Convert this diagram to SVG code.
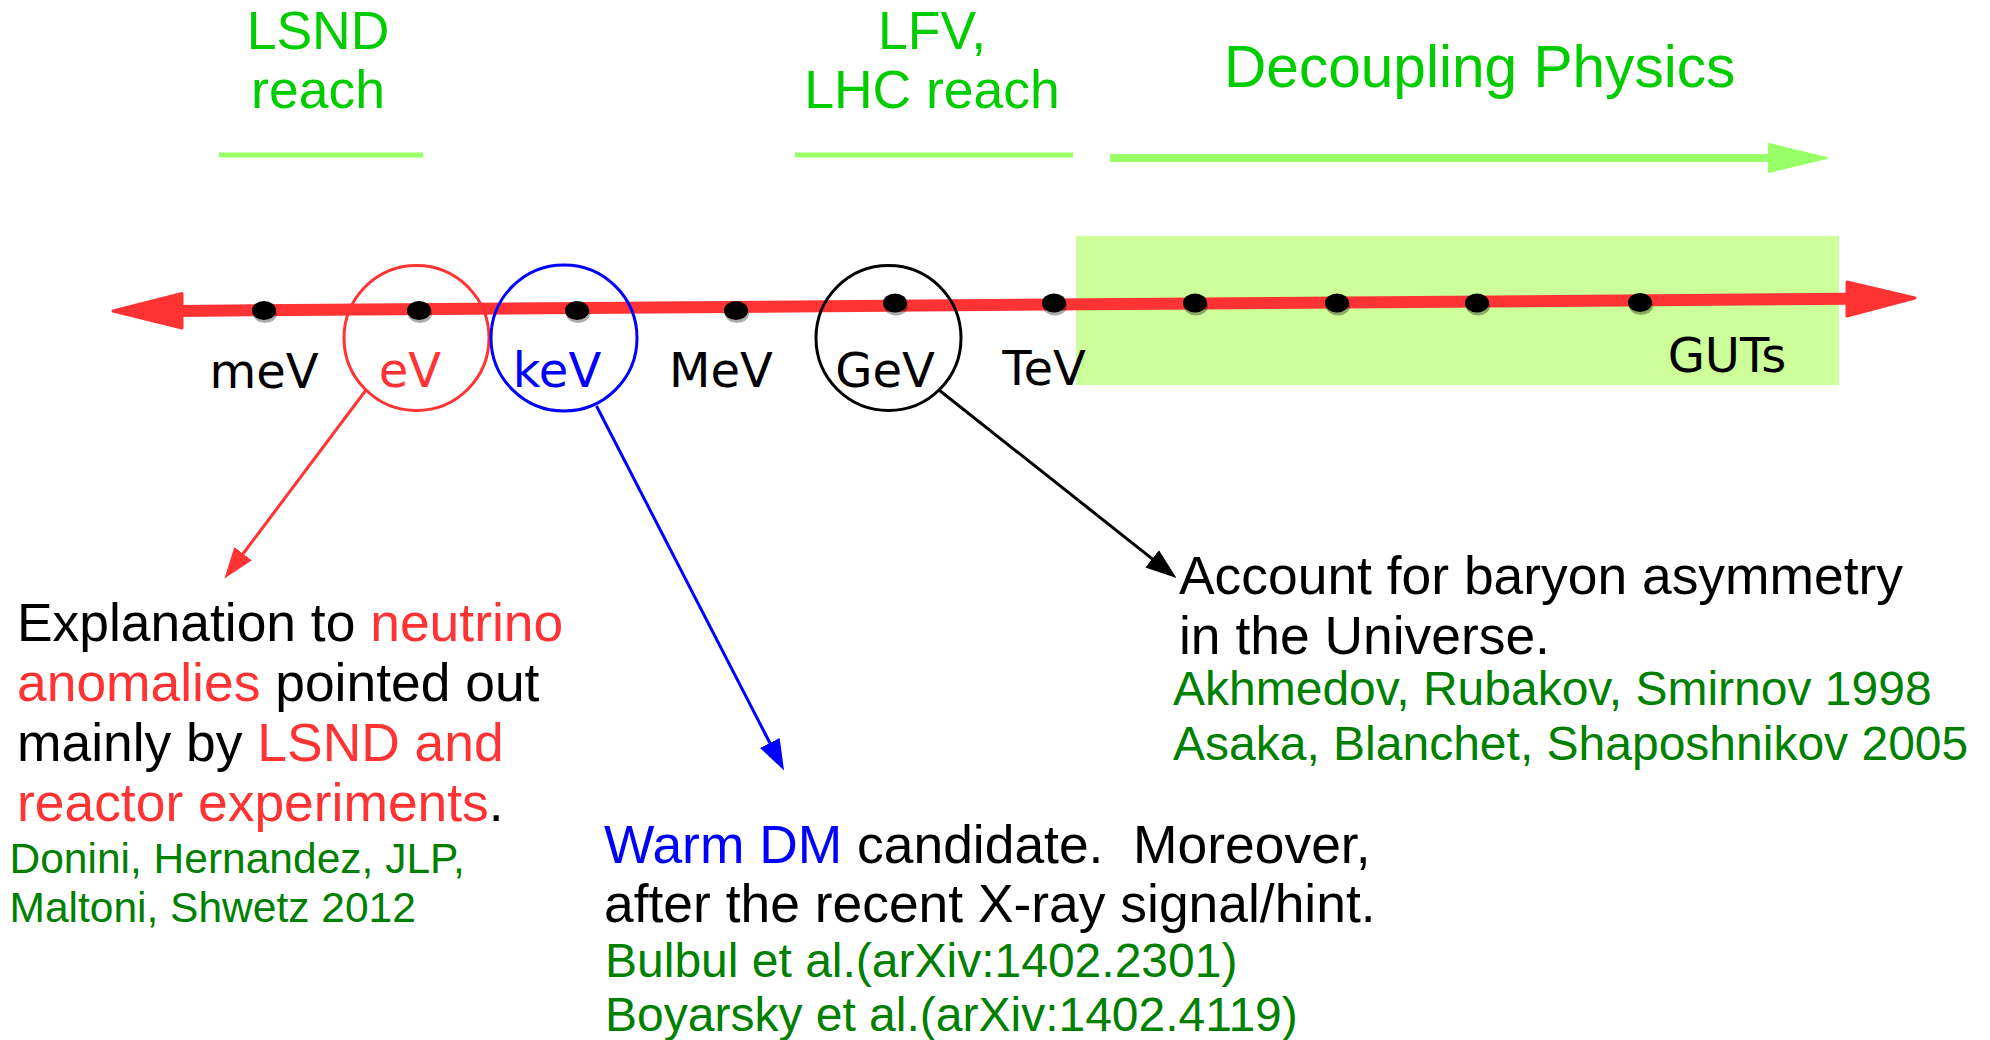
<svg xmlns="http://www.w3.org/2000/svg" width="1990" height="1040" viewBox="0 0 1990 1040">
<defs>
<style>
.t{font-family:"Liberation Sans",Arial,sans-serif}
.ax{font-family:"DejaVu Sans",sans-serif;font-size:48px;text-anchor:middle}
.top{font-family:"Liberation Sans",Arial,sans-serif;font-size:53.5px;fill:#00cc00;text-anchor:middle}
.main{font-size:53.4px;fill:#000}
.cite{font-size:48px;fill:#008000}
.r{fill:#ff3333}
.b{fill:#0000ff}
.dot{fill:#000}
.sh{fill:#000;opacity:0.33}
</style>
<marker id="mr" markerUnits="userSpaceOnUse" markerWidth="32" markerHeight="24" refX="11" refY="12" orient="auto"><path d="M0,1 L31,12 L0,23 z" fill="#ff3333"/></marker>
<marker id="mb" markerUnits="userSpaceOnUse" markerWidth="32" markerHeight="24" refX="11" refY="12" orient="auto"><path d="M0,1 L31,12 L0,23 z" fill="#0000ff"/></marker>
<marker id="mk" markerUnits="userSpaceOnUse" markerWidth="32" markerHeight="24" refX="11" refY="12" orient="auto"><path d="M0,1 L31,12 L0,23 z" fill="#000"/></marker>
</defs>
<rect width="1990" height="1040" fill="#fff"/>

<g id="decoupling-region">
<rect x="1076" y="236" width="763" height="149" fill="#ccff99"/>
</g>

<g id="top-labels">
<g id="lsnd">
<text class="top" x="318" y="49">LSND</text>
<text class="top" x="318" y="108">reach</text>
<line x1="219" y1="155" x2="423" y2="155" stroke="#99ff66" stroke-width="5"/>
</g>
<g id="lfv">
<text class="top" x="932" y="49">LFV,</text>
<text class="top" x="932" y="108">LHC reach</text>
<line x1="795" y1="155" x2="1073" y2="155" stroke="#99ff66" stroke-width="5"/>
</g>
<g id="decoupling">
<text class="t" x="1224" y="87" font-size="58.6" fill="#00cc00">Decoupling Physics</text>
<line x1="1110" y1="158" x2="1775" y2="158" stroke="#99ff66" stroke-width="8"/>
<path d="M1769,144 L1827,158 L1769,172 z" fill="#99ff66" stroke="#99ff66" stroke-width="2" stroke-linejoin="round"/>
</g>
</g>

<g id="axis">
<line x1="175" y1="310.9" x2="1850" y2="298.8" stroke="#ff3333" stroke-width="12"/>
<path d="M182,293.5 L113,311 L182,328 z" fill="#ff3333" stroke="#ff3333" stroke-width="3" stroke-linejoin="round"/>
<path d="M1847,282 L1915,298 L1847,316 z" fill="#ff3333" stroke="#ff3333" stroke-width="3" stroke-linejoin="round"/>
</g>

<g id="dots">
<ellipse class="sh" cx="265" cy="313.5" rx="12" ry="9.5"/><ellipse class="dot" cx="264" cy="310.5" rx="12" ry="9.5"/>
<ellipse class="sh" cx="420" cy="313.5" rx="12" ry="9.5"/><ellipse class="dot" cx="419" cy="310.5" rx="12" ry="9.5"/>
<ellipse class="sh" cx="578" cy="313.5" rx="12" ry="9.5"/><ellipse class="dot" cx="577" cy="310.5" rx="12" ry="9.5"/>
<ellipse class="sh" cx="737" cy="313.5" rx="12" ry="9.5"/><ellipse class="dot" cx="736" cy="310.5" rx="12" ry="9.5"/>
<ellipse class="sh" cx="896" cy="306" rx="12" ry="9.5"/><ellipse class="dot" cx="895" cy="303" rx="12" ry="9.5"/>
<ellipse class="sh" cx="1055" cy="306" rx="12" ry="9.5"/><ellipse class="dot" cx="1054" cy="303" rx="12" ry="9.5"/>
<ellipse class="sh" cx="1196" cy="306" rx="12" ry="9.5"/><ellipse class="dot" cx="1195" cy="303" rx="12" ry="9.5"/>
<ellipse class="sh" cx="1338" cy="306" rx="12" ry="9.5"/><ellipse class="dot" cx="1337" cy="303" rx="12" ry="9.5"/>
<ellipse class="sh" cx="1478" cy="306" rx="12" ry="9.5"/><ellipse class="dot" cx="1477" cy="303" rx="12" ry="9.5"/>
<ellipse class="sh" cx="1641" cy="305.5" rx="12" ry="9.5"/><ellipse class="dot" cx="1640" cy="302.5" rx="12" ry="9.5"/>
</g>

<g id="axis-labels">
<text class="ax" x="264" y="388" fill="#000">meV</text>
<g id="ev"><circle cx="416.5" cy="338" r="72.5" fill="none" stroke="#ff3333" stroke-width="3"/><text class="ax" x="410" y="387" fill="#ff3333">eV</text></g>
<g id="kev"><circle cx="564" cy="338" r="73" fill="none" stroke="#0000ff" stroke-width="3"/><text class="ax" x="557" y="387" fill="#0000ff">keV</text></g>
<text class="ax" x="721" y="387" fill="#000">MeV</text>
<g id="gev"><circle cx="888.5" cy="338" r="72.5" fill="none" stroke="#000" stroke-width="3"/><text class="ax" x="885" y="387" fill="#000">GeV</text></g>
<text class="ax" x="1044" y="385" fill="#000">TeV</text>
<text class="ax" x="1727" y="372" fill="#000">GUTs</text>
</g>

<g id="connectors">
<line x1="366" y1="390" x2="236.5" y2="562.5" stroke="#ff3333" stroke-width="3" marker-end="url(#mr)"/>
<line x1="596.5" y1="406" x2="774.9" y2="752.7" stroke="#0000ff" stroke-width="3" marker-end="url(#mb)"/>
<line x1="939" y1="390" x2="1160.8" y2="565.6" stroke="#000" stroke-width="3" marker-end="url(#mk)"/>
</g>

<g id="neutrino-anomalies">
<text class="t main" x="17" y="641">Explanation to <tspan class="r">neutrino</tspan></text>
<text class="t main" x="17" y="701"><tspan class="r">anomalies</tspan> pointed out</text>
<text class="t main" x="17" y="761">mainly by <tspan class="r">LSND and</tspan></text>
<text class="t main" x="17" y="821"><tspan class="r">reactor experiments</tspan>.</text>
<text class="t" x="9.5" y="873" font-size="42.5" fill="#008000">Donini, Hernandez, JLP,</text>
<text class="t" x="9.5" y="922" font-size="42.5" fill="#008000">Maltoni, Shwetz 2012</text>
</g>

<g id="warm-dm">
<text class="t main" x="604" y="863" xml:space="preserve"><tspan class="b">Warm DM</tspan> candidate.  Moreover,</text>
<text class="t main" x="604" y="922">after the recent X-ray signal/hint.</text>
<text class="t cite" x="605" y="977">Bulbul et al.(arXiv:1402.2301)</text>
<text class="t cite" x="605" y="1031">Boyarsky et al.(arXiv:1402.4119)</text>
</g>

<g id="baryon-asymmetry">
<text class="t main" x="1179" y="594">Account for baryon asymmetry</text>
<text class="t main" x="1179" y="654">in the Universe.</text>
<text class="t cite" x="1173" y="705">Akhmedov, Rubakov, Smirnov 1998</text>
<text class="t cite" x="1173" y="760">Asaka, Blanchet, Shaposhnikov 2005</text>
</g>
</svg>
